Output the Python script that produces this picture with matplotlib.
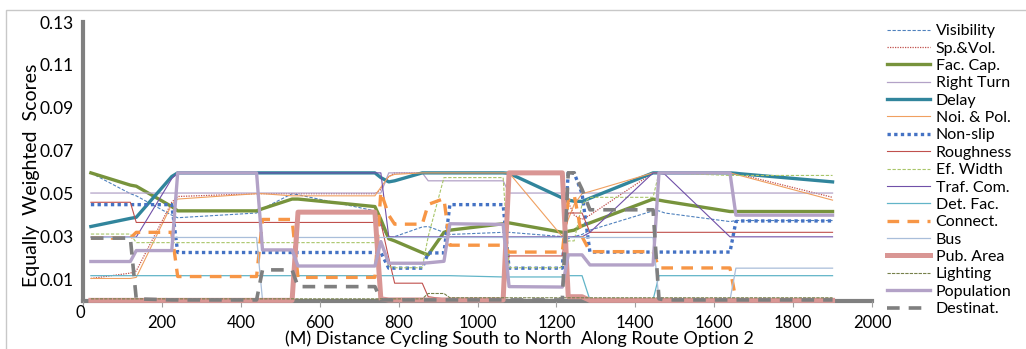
import matplotlib
matplotlib.use("Agg")
import matplotlib.pyplot as plt
from matplotlib.patches import Rectangle
from matplotlib.transforms import ScaledTranslation

plt.rcParams["font.family"] = ["Lato", "DejaVu Sans"]

# distance along route (m), shared by every series
dist = [20, 120, 135, 225, 240, 440, 455, 530, 545, 740, 755, 775, 790, 860, 875, 915,
        930, 1065, 1080, 1215, 1230, 1245, 1265, 1285, 1445, 1460, 1475, 1640, 1655, 1665, 1900]

visibility = [0.0597, 0.0500, 0.0490, 0.0400, 0.0388, 0.0410, 0.0430, 0.0500, 0.0495, 0.0420, 0.0350,
              0.0290, 0.0300, 0.0345, 0.0347, 0.0320, 0.0310, 0.0320, 0.0320, 0.0300, 0.0290, 0.0300,
              0.0310, 0.0330, 0.0420, 0.0420, 0.0410, 0.0370, 0.0375, 0.0375, 0.0375]
sp_vol = [0.0105, 0.0130, 0.0140, 0.0460, 0.0487, 0.0500, 0.0500, 0.0500, 0.0500, 0.0500, 0.0520,
          0.0580, 0.0597, 0.0597, 0.0597, 0.0597, 0.0597, 0.0597, 0.0597, 0.0480, 0.0460, 0.0400,
          0.0380, 0.0400, 0.0597, 0.0597, 0.0597, 0.0597, 0.0595, 0.0590, 0.0483]
fac_cap = [0.0597, 0.0540, 0.0535, 0.0440, 0.0420, 0.0420, 0.0430, 0.0475, 0.0475, 0.0440, 0.0380,
           0.0290, 0.0280, 0.0225, 0.0215, 0.0320, 0.0330, 0.0360, 0.0364, 0.0320, 0.0325, 0.0330,
           0.0350, 0.0364, 0.0475, 0.0470, 0.0465, 0.0417, 0.0417, 0.0417, 0.0417]
right_turn = [0.0503] * 11 + [0.0597, 0.0597, 0.0597, 0.0560, 0.0560, 0.0560, 0.0560] + [0.0503] * 13
delay = [0.0347, 0.0385, 0.0390, 0.0580, 0.0597, 0.0597, 0.0597, 0.0597, 0.0597, 0.0597, 0.0575,
         0.0555, 0.0560, 0.0597, 0.0597, 0.0597, 0.0597, 0.0597, 0.0595, 0.0480, 0.0470, 0.0465,
         0.0464, 0.0479, 0.0597, 0.0597, 0.0597, 0.0597, 0.0595, 0.0593, 0.0555]
noi_pol = [0.0105, 0.0105, 0.0110, 0.0450, 0.0475, 0.0500, 0.0500, 0.0490, 0.0490, 0.0490, 0.0530,
           0.0580, 0.0590, 0.0597, 0.0597, 0.0597, 0.0597, 0.0597, 0.0597, 0.0300, 0.0380, 0.0450,
           0.0500, 0.0510, 0.0597, 0.0597, 0.0597, 0.0597, 0.0590, 0.0585, 0.0470]
non_slip = ([0.0449] * 4 + [0.0226] * 7 + [0.0153] * 3 + [0.0224, 0.0224, 0.0449, 0.0449, 0.0153, 0.0153,
            0.0597, 0.0597, 0.0500] + [0.0228] * 5 + [0.0370, 0.0373, 0.0373])
roughness = ([0.0460, 0.0460] + [0.0366] * 9 + [0.0200, 0.0083, 0.0083, 0.0020, 0.0010, 0.0010, 0.0010,
             0.0210, 0.0210, 0.0410, 0.0410, 0.0410] + [0.0320] * 8)
ef_width = [0.0312, 0.0312, 0.0272, 0.0272, 0.0272, 0.0272, 0.0272, 0.0272, 0.0272, 0.0272, 0.0270,
            0.0160, 0.0155, 0.0155, 0.0300, 0.0575, 0.0575, 0.0575, 0.0155, 0.0155, 0.0280, 0.0280,
            0.0450, 0.0483, 0.0483, 0.0597, 0.0597, 0.0585, 0.0585, 0.0585, 0.0585]
traf_com = ([0.0298] * 3 + [0.0570] + [0.0597] * 7 + [0.0300] + [0.0299] * 11 + [0.0320, 0.0597, 0.0597,
            0.0590] + [0.0299] * 4)
det_fac = [0.0118] * 17 + [0.0112] * 3 + [0.0118] * 3 + [0.0005, 0.0005] + [0.0118] * 6
connect = [0.0293, 0.0293, 0.0320, 0.0320, 0.0114, 0.0114, 0.0380, 0.0380, 0.0110, 0.0110, 0.0508,
           0.0400, 0.0358, 0.0358, 0.0450, 0.0477, 0.0260, 0.0260, 0.0228, 0.0228, 0.0470, 0.0495,
           0.0300, 0.0230, 0.0230, 0.0154, 0.0154, 0.0154, 0.0005, 0.0005, 0.0005]
bus = [0.0296] * 6 + [0.0005, 0.0005] + [0.0296] * 17 + [0.0005] * 3 + [0.0153] * 3
pub_area = [0.0003] * 8 + [0.0414, 0.0414, 0.0010] + [0.0005] * 7 + [0.0597, 0.0597, 0.0020, 0.0020,
            0.0020] + [0.0003] * 8
lighting = [0.0010] * 14 + [0.0035, 0.0035] + [0.0015] * 15
population = [0.0184, 0.0184, 0.0235, 0.0235, 0.0597, 0.0597, 0.0238, 0.0238, 0.0163, 0.0163, 0.0277,
              0.0176, 0.0176, 0.0176, 0.0178, 0.0185, 0.0360, 0.0357, 0.0067, 0.0065, 0.0215, 0.0215,
              0.0215, 0.0168, 0.0168, 0.0597, 0.0597, 0.0597, 0.0400, 0.0400, 0.0400]
destinat = ([0.0293, 0.0293, 0.0010, 0.0005, 0.0005, 0.0005, 0.0145, 0.0145, 0.0067, 0.0067]
            + [0.0005] * 10 + [0.0597, 0.0597, 0.0520, 0.0425, 0.0425, 0.0010] + [0.0005] * 5)

x_ticks = [0, 200, 400, 600, 800, 1000, 1200, 1400, 1600, 1800, 2000]
y_ticks = [0.01, 0.03, 0.05, 0.07, 0.09, 0.11, 0.13]

# (label, values, colour, width, style)
series = [
    ("Visibility", visibility, "#4F81BD", 0.8, (0, (3, 1.5))),
    ("Sp.&Vol.", sp_vol, "#C0504D", 0.9, (0, (1, 1))),
    ("Fac. Cap.", fac_cap, "#77933C", 2.4, "-"),
    ("Right Turn", right_turn, "#B3A2C7", 0.9, "-"),
    ("Delay", delay, "#31859C", 2.4, "-"),
    ("Noi. & Pol.", noi_pol, "#F0A060", 0.8, "-"),
    ("Non-slip", non_slip, "#4472C4", 2.4, (0, (1, 1))),
    ("Roughness", roughness, "#C0504D", 0.8, "-"),
    ("Ef. Width", ef_width, "#A9C66A", 0.8, (0, (3, 1.5))),
    ("Traf. Com.", traf_com, "#7050A8", 0.8, "-"),
    ("Det. Fac.", det_fac, "#62B5C8", 0.9, "-"),
    ("Connect.", connect, "#F79646", 2.4, (0, (3.5, 2.5))),
    ("Bus", bus, "#A9BEDA", 0.9, "-"),
    ("Pub. Area", pub_area, "#D99694", 3.6, "-"),
    ("Lighting", lighting, "#76804A", 0.8, (0, (3, 1))),
    ("Population", population, "#B3A2C7", 2.4, "-"),
    ("Destinat.", destinat, "#7F7F7F", 2.6, (0, (3.5, 2.5))),
]

fig = plt.figure(figsize=(10.26, 3.49), dpi=100)
ax = fig.add_axes([83 / 1026, 48 / 349, 789 / 1026, 279 / 349])

for label, vals, color, lw, ls in series:
    ax.plot(dist, vals, color=color, lw=lw, linestyle=ls, label=label,
            clip_on=False, zorder=3)

ax.set_xlim(0, 2000)
ax.set_ylim(0, 0.13)
ax.set_xticks(x_ticks)
ax.set_yticks(y_ticks)
ax.set_yticklabels([f"{v:.2f}" for v in y_ticks])
ax.tick_params(axis="y", length=0, pad=7, labelsize=12.5)
ax.tick_params(axis="x", length=4, width=0.8, color="#A0A0A0", pad=6, labelsize=12)

for side in ("top", "right"):
    ax.spines[side].set_visible(False)
for side in ("left", "bottom"):
    ax.spines[side].set_color("#808080")
    ax.spines[side].set_linewidth(3)
    ax.spines[side].set_zorder(1)

# the "0" sits a little higher than the other distance labels
zero = ax.get_xticklabels()[0]
zero.set_transform(zero.get_transform() + ScaledTranslation(-2 / 72, 7 / 72, fig.dpi_scale_trans))

ax.set_ylabel("Equally  Weighted  Scores", fontsize=14)
ax.yaxis.set_label_coords(-0.054, 0.45)
fig.text(519 / 1026, 1 - 339 / 349, "(M) Distance Cycling South to North  Along Route Option 2",
         ha="center", va="center", fontsize=13)

fig.legend(loc="upper left", bbox_to_anchor=(887 / 1026, 1 - 24 / 349), frameon=False,
           fontsize=11.5, handlelength=2.7, handletextpad=0.35, labelspacing=0.2,
           borderpad=0, borderaxespad=0)

fig.patches.append(Rectangle((6 / 1026, -0.01), 1.0, 1 - 10 / 349 + 0.01,
                             transform=fig.transFigure, fill=False,
                             edgecolor="#C8C8C8", lw=1.0))

fig.savefig("out.png", dpi=100)
